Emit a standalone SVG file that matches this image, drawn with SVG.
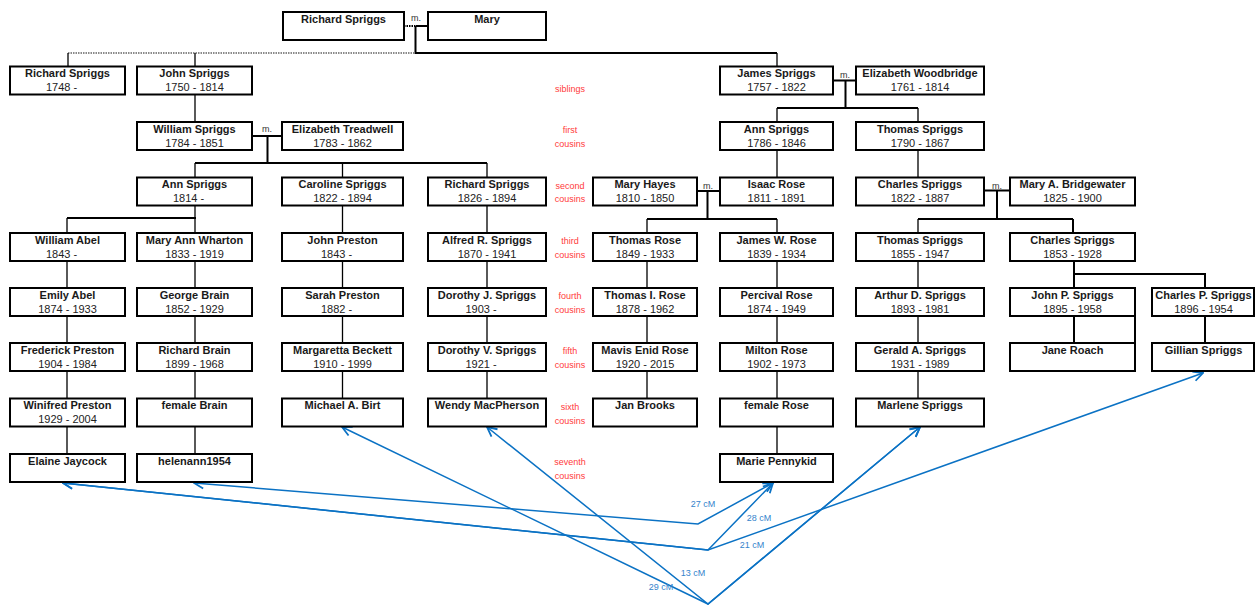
<svg xmlns="http://www.w3.org/2000/svg" width="1256" height="605" viewBox="0 0 1256 605">
<style>
text{font-family:"Liberation Sans",Arial,sans-serif}
.box{fill:#fff;stroke:#000;stroke-width:2}
.nm{font-size:11px;font-weight:bold;fill:#1a1a1a;text-anchor:middle}
.dt{font-size:11px;fill:#222;text-anchor:middle}
.lbl{font-size:9px;fill:#ff3b3b;text-anchor:middle}
.m{font-size:9px;fill:#333;text-anchor:middle}
.ln{fill:none;stroke:#000;stroke-width:1.3}
.th{fill:none;stroke:#000;stroke-width:2}
.dna{fill:none;stroke:#0b72c4;stroke-width:1.5;marker-start:url(#ah);marker-end:url(#ah)}
.cm{font-size:9px;fill:#3584cc;text-anchor:middle}
</style>
<defs>
<marker id="ah" markerUnits="userSpaceOnUse" markerWidth="12" markerHeight="12" viewBox="0 0 10 10" refX="9" refY="5" orient="auto-start-reverse">
<path d="M1,1 L9,5 L1,9" fill="none" stroke="#0b72c4" stroke-width="1.5"/>
</marker>
</defs>

<g id="connectors">
<path d="M404,26 H416" fill="none" stroke="#000" stroke-width="2" stroke-dasharray="1.5 1"/>
<path class="th" d="M416,26 H428"/>
<path class="th" d="M415.5,26 V53 H777"/>
<path class="ln" d="M777,53 V66.5"/>
<path d="M68,53 H415" fill="none" stroke="#8a8a8a" stroke-width="2" stroke-dasharray="1.5 1"/>
<path class="ln" d="M68,53 V66.5 M195,53 V66.5"/>
<path class="ln" d="M195,94.5 V122"/>
<path class="th" d="M833,80.5 H856 M845.5,80.5 V108 M777,108 H918"/>
<path class="ln" d="M777,108 V122 M918,108 V122"/>
<path class="th" d="M252,136 H282 M267.5,136 V163 M195,163 H487"/>
<path class="ln" d="M195,163 V177.5 M342.5,163 V177.5 M487,163 V177.5"/>
<path class="ln" d="M777,150 V177.5 M918,150 V177.5"/>
<path class="ln" d="M195,205.5 V233"/>
<path class="th" d="M67,218 H196"/>
<path class="ln" d="M67,218 V233 M342.5,205.5 V233 M487,205.5 V233"/>
<path class="th" d="M697,191 H720 M707.5,191 V219 M647,219 H777"/>
<path class="ln" d="M647,219 V233 M777,219 V233"/>
<path class="th" d="M984,190.5 H1010 M997,190.5 V219 M918,219 H1073"/>
<path class="ln" d="M918,219 V233"/>
<path class="th" d="M1073,219 V233"/>
<path class="ln" d="M67,261 V288 M67,316 V343 M67,371 V398.5 M67,426.5 V454"/>
<path class="ln" d="M195,261 V288 M195,316 V343 M195,371 V398.5 M195,426.5 V454"/>
<path class="ln" d="M342.5,261 V288 M342.5,316 V343 M342.5,371 V398.5"/>
<path class="ln" d="M487,261 V288 M487,316 V343 M487,371 V398.5"/>
<path class="ln" d="M647,261 V288 M647,316 V343 M647,371 V398.5"/>
<path class="ln" d="M777,261 V288 M777,316 V343 M777,371 V398.5 M777,426.5 V454"/>
<path class="ln" d="M918,261 V288 M918,316 V343 M918,371 V398.5"/>
<path class="th" d="M1074,261 V288 M1074,274 H1205 V288"/>
<path class="th" d="M1074,316 V343 M1135,316 V343 M1205,316 V343"/>

<path class="dna" d="M194,483 L698,524 L773,483"/>
<path class="dna" d="M63,483 L708,550 L773,483"/>
<path class="dna" d="M63,483 L708,550 L1203,373"/>
<path class="dna" d="M342,427 L708,604 L920,427"/>
<path class="dna" d="M487,427 L708,604 L920,427"/>
<text class="cm" x="703" y="507">27 cM</text>
<text class="cm" x="759" y="521">28 cM</text>
<text class="cm" x="752" y="548">21 cM</text>
<text class="cm" x="693" y="576">13 cM</text>
<text class="cm" x="661" y="590">29 cM</text>
</g>

<g id="marriage-labels">
<text class="m" x="416" y="21">m.</text>
<text class="m" x="845" y="78">m.</text>
<text class="m" x="267" y="132">m.</text>
<text class="m" x="708" y="189">m.</text>
<text class="m" x="997" y="189">m.</text>
</g>

<g id="relationship-labels">
<text class="lbl" x="570" y="92">siblings</text>
<text class="lbl" x="570" y="133">first</text><text class="lbl" x="570" y="147">cousins</text>
<text class="lbl" x="570" y="189">second</text><text class="lbl" x="570" y="202">cousins</text>
<text class="lbl" x="570" y="244">third</text><text class="lbl" x="570" y="258">cousins</text>
<text class="lbl" x="570" y="299">fourth</text><text class="lbl" x="570" y="313">cousins</text>
<text class="lbl" x="570" y="354">fifth</text><text class="lbl" x="570" y="368">cousins</text>
<text class="lbl" x="570" y="410">sixth</text><text class="lbl" x="570" y="424">cousins</text>
<text class="lbl" x="570" y="465">seventh</text><text class="lbl" x="570" y="479">cousins</text>
</g>

<g id="n-richard-sr"><rect class="box" x="283" y="12" width="121" height="28"/><text class="nm" x="343.5" y="22.5">Richard Spriggs</text></g>
<g id="n-mary"><rect class="box" x="428" y="12" width="118" height="28"/><text class="nm" x="487" y="22.5">Mary</text></g>

<g id="n-richard-1748"><rect class="box" x="10" y="66.5" width="115" height="28"/><text class="nm" x="67.5" y="77">Richard Spriggs</text><text class="dt" x="61.5" y="91">1748 -</text></g>
<g id="n-john-1750"><rect class="box" x="137" y="66.5" width="115" height="28"/><text class="nm" x="194.5" y="77">John Spriggs</text><text class="dt" x="194.5" y="91">1750 - 1814</text></g>
<g id="n-james-1757"><rect class="box" x="720" y="66.5" width="113" height="28"/><text class="nm" x="776.5" y="77">James Spriggs</text><text class="dt" x="776.5" y="91">1757 - 1822</text></g>
<g id="n-elizabeth-woodbridge"><rect class="box" x="856" y="66.5" width="128" height="28"/><text class="nm" x="920" y="77">Elizabeth Woodbridge</text><text class="dt" x="920" y="91">1761 - 1814</text></g>

<g id="n-william-1784"><rect class="box" x="137" y="122" width="115" height="28"/><text class="nm" x="194.5" y="132.5">William Spriggs</text><text class="dt" x="194.5" y="146.5">1784 - 1851</text></g>
<g id="n-elizabeth-treadwell"><rect class="box" x="282" y="122" width="121" height="28"/><text class="nm" x="342.5" y="132.5">Elizabeth Treadwell</text><text class="dt" x="342.5" y="146.5">1783 - 1862</text></g>
<g id="n-ann-1786"><rect class="box" x="720" y="122" width="113" height="28"/><text class="nm" x="776.5" y="132.5">Ann Spriggs</text><text class="dt" x="776.5" y="146.5">1786 - 1846</text></g>
<g id="n-thomas-1790"><rect class="box" x="856" y="122" width="128" height="28"/><text class="nm" x="920" y="132.5">Thomas Spriggs</text><text class="dt" x="920" y="146.5">1790 - 1867</text></g>

<g id="n-ann-1814"><rect class="box" x="137" y="177.5" width="115" height="28"/><text class="nm" x="194.5" y="188">Ann Spriggs</text><text class="dt" x="188.5" y="202">1814 -</text></g>
<g id="n-caroline"><rect class="box" x="282" y="177.5" width="121" height="28"/><text class="nm" x="342.5" y="188">Caroline Spriggs</text><text class="dt" x="342.5" y="202">1822 - 1894</text></g>
<g id="n-richard-1826"><rect class="box" x="428" y="177.5" width="118" height="28"/><text class="nm" x="487" y="188">Richard Spriggs</text><text class="dt" x="487" y="202">1826 - 1894</text></g>
<g id="n-mary-hayes"><rect class="box" x="593" y="177.5" width="104" height="28"/><text class="nm" x="645" y="188">Mary Hayes</text><text class="dt" x="645" y="202">1810 - 1850</text></g>
<g id="n-isaac-rose"><rect class="box" x="720" y="177.5" width="113" height="28"/><text class="nm" x="776.5" y="188">Isaac Rose</text><text class="dt" x="776.5" y="202">1811 - 1891</text></g>
<g id="n-charles-1822"><rect class="box" x="856" y="177.5" width="128" height="28"/><text class="nm" x="920" y="188">Charles Spriggs</text><text class="dt" x="920" y="202">1822 - 1887</text></g>
<g id="n-mary-bridgewater"><rect class="box" x="1010" y="177.5" width="125" height="28"/><text class="nm" x="1072.5" y="188">Mary A. Bridgewater</text><text class="dt" x="1072.5" y="202">1825 - 1900</text></g>

<g id="n-william-abel"><rect class="box" x="10" y="233" width="115" height="28"/><text class="nm" x="67.5" y="243.5">William Abel</text><text class="dt" x="61.5" y="257.5">1843 -</text></g>
<g id="n-mary-ann-wharton"><rect class="box" x="137" y="233" width="115" height="28"/><text class="nm" x="194.5" y="243.5">Mary Ann Wharton</text><text class="dt" x="194.5" y="257.5">1833 - 1919</text></g>
<g id="n-john-preston"><rect class="box" x="282" y="233" width="121" height="28"/><text class="nm" x="342.5" y="243.5">John Preston</text><text class="dt" x="336.5" y="257.5">1843 -</text></g>
<g id="n-alfred"><rect class="box" x="428" y="233" width="118" height="28"/><text class="nm" x="487" y="243.5">Alfred R. Spriggs</text><text class="dt" x="487" y="257.5">1870 - 1941</text></g>
<g id="n-thomas-rose"><rect class="box" x="593" y="233" width="104" height="28"/><text class="nm" x="645" y="243.5">Thomas Rose</text><text class="dt" x="645" y="257.5">1849 - 1933</text></g>
<g id="n-james-w-rose"><rect class="box" x="720" y="233" width="113" height="28"/><text class="nm" x="776.5" y="243.5">James W. Rose</text><text class="dt" x="776.5" y="257.5">1839 - 1934</text></g>
<g id="n-thomas-1855"><rect class="box" x="856" y="233" width="128" height="28"/><text class="nm" x="920" y="243.5">Thomas Spriggs</text><text class="dt" x="920" y="257.5">1855 - 1947</text></g>
<g id="n-charles-1853"><rect class="box" x="1010" y="233" width="125" height="28"/><text class="nm" x="1072.5" y="243.5">Charles Spriggs</text><text class="dt" x="1072.5" y="257.5">1853 - 1928</text></g>

<g id="n-emily-abel"><rect class="box" x="10" y="288" width="115" height="28"/><text class="nm" x="67.5" y="298.5">Emily Abel</text><text class="dt" x="67.5" y="312.5">1874 - 1933</text></g>
<g id="n-george-brain"><rect class="box" x="137" y="288" width="115" height="28"/><text class="nm" x="194.5" y="298.5">George Brain</text><text class="dt" x="194.5" y="312.5">1852 - 1929</text></g>
<g id="n-sarah-preston"><rect class="box" x="282" y="288" width="121" height="28"/><text class="nm" x="342.5" y="298.5">Sarah Preston</text><text class="dt" x="336.5" y="312.5">1882 -</text></g>
<g id="n-dorothy-j"><rect class="box" x="428" y="288" width="118" height="28"/><text class="nm" x="487" y="298.5">Dorothy J. Spriggs</text><text class="dt" x="481" y="312.5">1903 -</text></g>
<g id="n-thomas-i-rose"><rect class="box" x="593" y="288" width="104" height="28"/><text class="nm" x="645" y="298.5">Thomas I. Rose</text><text class="dt" x="645" y="312.5">1878 - 1962</text></g>
<g id="n-percival-rose"><rect class="box" x="720" y="288" width="113" height="28"/><text class="nm" x="776.5" y="298.5">Percival Rose</text><text class="dt" x="776.5" y="312.5">1874 - 1949</text></g>
<g id="n-arthur"><rect class="box" x="856" y="288" width="128" height="28"/><text class="nm" x="920" y="298.5">Arthur D. Spriggs</text><text class="dt" x="920" y="312.5">1893 - 1981</text></g>
<g id="n-john-p"><rect class="box" x="1010" y="288" width="125" height="28"/><text class="nm" x="1072.5" y="298.5">John P. Spriggs</text><text class="dt" x="1072.5" y="312.5">1895 - 1958</text></g>
<g id="n-charles-p"><rect class="box" x="1152" y="288" width="102" height="28"/><text class="nm" x="1203.5" y="298.5">Charles P. Spriggs</text><text class="dt" x="1203.5" y="312.5">1896 - 1954</text></g>

<g id="n-frederick-preston"><rect class="box" x="10" y="343" width="115" height="28"/><text class="nm" x="67.5" y="353.5">Frederick Preston</text><text class="dt" x="67.5" y="367.5">1904 - 1984</text></g>
<g id="n-richard-brain"><rect class="box" x="137" y="343" width="115" height="28"/><text class="nm" x="194.5" y="353.5">Richard Brain</text><text class="dt" x="194.5" y="367.5">1899 - 1968</text></g>
<g id="n-margaretta"><rect class="box" x="282" y="343" width="121" height="28"/><text class="nm" x="342.5" y="353.5">Margaretta Beckett</text><text class="dt" x="342.5" y="367.5">1910 - 1999</text></g>
<g id="n-dorothy-v"><rect class="box" x="428" y="343" width="118" height="28"/><text class="nm" x="487" y="353.5">Dorothy V. Spriggs</text><text class="dt" x="481" y="367.5">1921 -</text></g>
<g id="n-mavis"><rect class="box" x="593" y="343" width="104" height="28"/><text class="nm" x="645" y="353.5">Mavis Enid Rose</text><text class="dt" x="645" y="367.5">1920 - 2015</text></g>
<g id="n-milton"><rect class="box" x="720" y="343" width="113" height="28"/><text class="nm" x="776.5" y="353.5">Milton Rose</text><text class="dt" x="776.5" y="367.5">1902 - 1973</text></g>
<g id="n-gerald"><rect class="box" x="856" y="343" width="128" height="28"/><text class="nm" x="920" y="353.5">Gerald A. Spriggs</text><text class="dt" x="920" y="367.5">1931 - 1989</text></g>
<g id="n-jane-roach"><rect class="box" x="1010" y="343" width="125" height="28"/><text class="nm" x="1072.5" y="353.5">Jane Roach</text></g>
<g id="n-gillian"><rect class="box" x="1152" y="343" width="102" height="28"/><text class="nm" x="1203.5" y="353.5">Gillian Spriggs</text></g>

<g id="n-winifred"><rect class="box" x="10" y="398.5" width="115" height="28"/><text class="nm" x="67.5" y="409">Winifred Preston</text><text class="dt" x="67.5" y="423">1929 - 2004</text></g>
<g id="n-female-brain"><rect class="box" x="137" y="398.5" width="115" height="28"/><text class="nm" x="194.5" y="409">female Brain</text></g>
<g id="n-michael-birt"><rect class="box" x="282" y="398.5" width="121" height="28"/><text class="nm" x="342.5" y="409">Michael A. Birt</text></g>
<g id="n-wendy"><rect class="box" x="428" y="398.5" width="118" height="28"/><text class="nm" x="487" y="409">Wendy MacPherson</text></g>
<g id="n-jan-brooks"><rect class="box" x="593" y="398.5" width="104" height="28"/><text class="nm" x="645" y="409">Jan Brooks</text></g>
<g id="n-female-rose"><rect class="box" x="720" y="398.5" width="113" height="28"/><text class="nm" x="776.5" y="409">female Rose</text></g>
<g id="n-marlene"><rect class="box" x="856" y="398.5" width="128" height="28"/><text class="nm" x="920" y="409">Marlene Spriggs</text></g>

<g id="n-elaine"><rect class="box" x="10" y="454" width="115" height="28"/><text class="nm" x="67.5" y="464.5">Elaine Jaycock</text></g>
<g id="n-helenann"><rect class="box" x="137" y="454" width="115" height="28"/><text class="nm" x="194.5" y="464.5">helenann1954</text></g>
<g id="n-marie"><rect class="box" x="720" y="454" width="113" height="28"/><text class="nm" x="776.5" y="464.5">Marie Pennykid</text></g>
</svg>
